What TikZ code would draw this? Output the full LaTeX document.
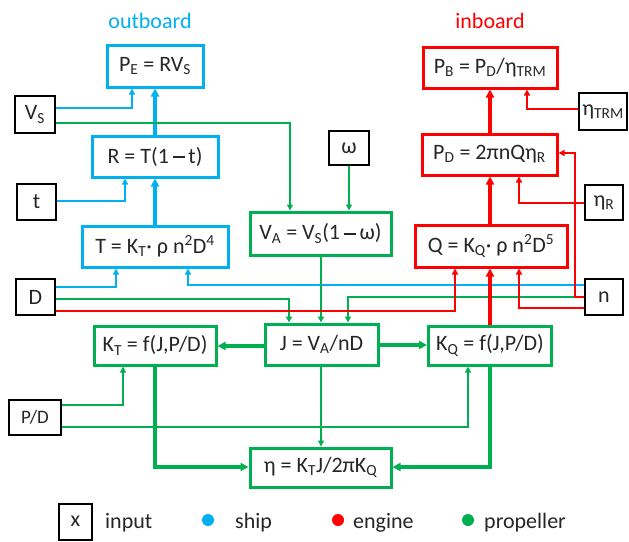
\documentclass[tikz,border=0pt]{standalone}
\usepackage{fontspec}
\setmainfont{Carlito}
\usetikzlibrary{arrows.meta}
\definecolor{shipblue}{RGB}{0,176,240}
\definecolor{enginered}{RGB}{255,0,0}
\definecolor{propgreen}{RGB}{0,176,80}
\newcommand{\lo}[1]{\textsubscript{#1}}
\newcommand{\hi}[1]{\textsuperscript{#1}}
\newcommand{\minusbar}{\,\rule[0.22em]{0.55em}{0.1em}\,}

\begin{document}
\begin{tikzpicture}[x=1pt,y=-1pt,
  every node/.style={font=\fontsize{22}{26}\selectfont, inner sep=0pt, text=black!85},
  shipbox/.style={draw=shipblue, line width=3pt},
  enginebox/.style={draw=enginered, line width=3pt},
  propbox/.style={draw=propgreen, line width=3pt},
  inbox/.style={draw=black, line width=2pt},
  thinlink/.style={line width=1.8pt, -{Triangle[length=6pt,width=6pt]}},
  thicklink/.style={line width=3.2pt, -{Triangle[length=8pt,width=8pt]}},
  legdot/.style={circle, minimum size=12pt}]

\fill[white] (0,0) rectangle (629,541);
\useasboundingbox (0,0) rectangle (629,541);

% column headings
\node[text=shipblue, anchor=base] (hout) at (150,28) {outboard};
\node[text=enginered, anchor=base] (hin) at (490,28) {inboard};

% ship (outboard) equations
\node[shipbox, minimum width=96pt, minimum height=42pt] (PE) at (155,66) {P\lo{E} = RV\lo{S}};
\node[shipbox, minimum width=126pt, minimum height=41pt] (R) at (155,156.5) {R = T(1\minusbar t)};
\node[shipbox, minimum width=146pt, minimum height=41pt] (T) at (155,246.5) {T = K\lo{T}· ρ n\hi{2}D\hi{4}};

% propeller equations
\node[propbox, minimum width=141pt, minimum height=43pt] (VA) at (320.5,233.5) {V\lo{A} = V\lo{S}(1\minusbar ω)};
\node[propbox, minimum width=122pt, minimum height=39pt] (KT) at (155,345.5) {K\lo{T} = f(J,P/D)};
\node[propbox, minimum width=113pt, minimum height=41pt] (J) at (321.5,344.5) {J = V\lo{A}/nD};
\node[propbox, minimum width=123pt, minimum height=39pt] (KQ) at (490,345.5) {K\lo{Q} = f(J,P/D)};
\node[propbox, minimum width=141pt, minimum height=39pt] (eta) at (320.5,467.5) {η = K\lo{T}J/2πK\lo{Q}};

% engine (inboard) equations
\node[enginebox, minimum width=134pt, minimum height=41pt] (PB) at (490,67.5) {P\lo{B} = P\lo{D}/η\lo{TRM}};
\node[enginebox, minimum width=135pt, minimum height=41pt] (PD) at (489.5,154.5) {P\lo{D} = 2πnQη\lo{R}};
\node[enginebox, minimum width=152pt, minimum height=42pt] (Q) at (491,246) {Q = K\lo{Q}· ρ n\hi{2}D\hi{5}};

% inputs
\node[inbox, minimum width=40pt, minimum height=37pt] (Vs) at (35,114.5) {V\lo{S}};
\node[inbox, minimum width=39pt, minimum height=36pt] (tin) at (36.5,202) {t};
\node[inbox, minimum width=39pt, minimum height=36pt] (Din) at (35.5,297) {D};
\node[inbox, minimum width=52pt, minimum height=35pt, font=\fontsize{19}{22}\selectfont] (PDin) at (35,417.5) {P/D};
\node[inbox, minimum width=40pt, minimum height=34pt] (win) at (349,148) {ω};
\node[inbox, minimum width=48pt, minimum height=37pt] (etrm) at (603,111.5) {η\lo{TRM}};
\node[inbox, minimum width=38pt, minimum height=35pt] (er) at (604,202.5) {η\lo{R}};
\node[inbox, minimum width=38pt, minimum height=36pt] (nin) at (604,297) {n};

% ship links
\draw[shipblue, thinlink] (Vs.east |- 0,108) -| (132,0 |- PE.south);
\draw[shipblue, thicklink] (R.north) -- (PE.south);
\draw[shipblue, thinlink] (tin.east |- 0,201) -| (125,0 |- R.south);
\draw[shipblue, thicklink] (T.north) -- (R.south);
\draw[shipblue, thinlink] (Din.east |- 0,287) -| (116,0 |- T.south);
\draw[shipblue, thinlink] (nin.west |- 0,285) -| (188,0 |- T.south);

% propeller links
\draw[propgreen, thinlink] (Vs.east |- 0,123) -| (290,0 |- VA.north);
\draw[propgreen, thinlink] (win.south) -- (win.south |- VA.north);
\draw[propgreen, thinlink] (321,0 |- VA.south) -- (321,0 |- J.north);
\draw[propgreen, thinlink] (Din.east |- 0,299) -| (289,0 |- J.north);
\draw[propgreen, thinlink] (nin.west |- 0,297) -| (348,0 |- J.north);
\draw[propgreen, thicklink] (J.west |- 0,346) -- (KT.east |- 0,346);
\draw[propgreen, thicklink] (J.east |- 0,345) -- (KQ.west |- 0,345);
\draw[propgreen, thinlink] (PDin.east |- 0,405) -| (123,0 |- KT.south);
\draw[propgreen, thinlink] (PDin.east |- 0,427) -| (468,0 |- KQ.south);
\draw[propgreen, thicklink] (KT.south) |- (eta.west |- 0,467);
\draw[propgreen, thicklink] (KQ.south) |- (eta.east |- 0,467);
\draw[propgreen, thinlink] (321,0 |- J.south) -- (321,0 |- eta.north);

% engine links
\draw[enginered, thicklink] (PD.north -| 490,0) -- (PB.south -| 490,0);
\draw[enginered, thinlink] (etrm.west |- 0,109) -| (527,0 |- PB.south);
\draw[enginered, thicklink] (Q.north -| 490,0) -- (PD.south -| 490,0);
\draw[enginered, thinlink] (er.west |- 0,203) -| (519,0 |- PD.south);
\draw[enginered, thinlink] (nin.west |- 0,297) -| (575,153) -- (PD.east |- 0,153);
\draw[enginered, thinlink] (Din.east |- 0,311) -| (455,0 |- Q.south);
\draw[enginered, thicklink] (KQ.north) -- (Q.south -| KQ.north);
\draw[enginered, thinlink] (nin.west |- 0,308) -| (519,0 |- Q.south);

% legend
\node[inbox, minimum width=33pt, minimum height=36pt] (lx) at (75.5,521.5) {x};
\node[anchor=base west] (linput) at (105,528) {input};
\node[legdot, fill=shipblue] (dship) at (208,520) {};
\node[anchor=base west] (lship) at (235,528) {ship};
\node[legdot, fill=enginered] (dengine) at (338,520) {};
\node[anchor=base west] (lengine) at (353,528) {engine};
\node[legdot, fill=propgreen] (dprop) at (468,520) {};
\node[anchor=base west] (lprop) at (484,528) {propeller};
\end{tikzpicture}
\end{document}
